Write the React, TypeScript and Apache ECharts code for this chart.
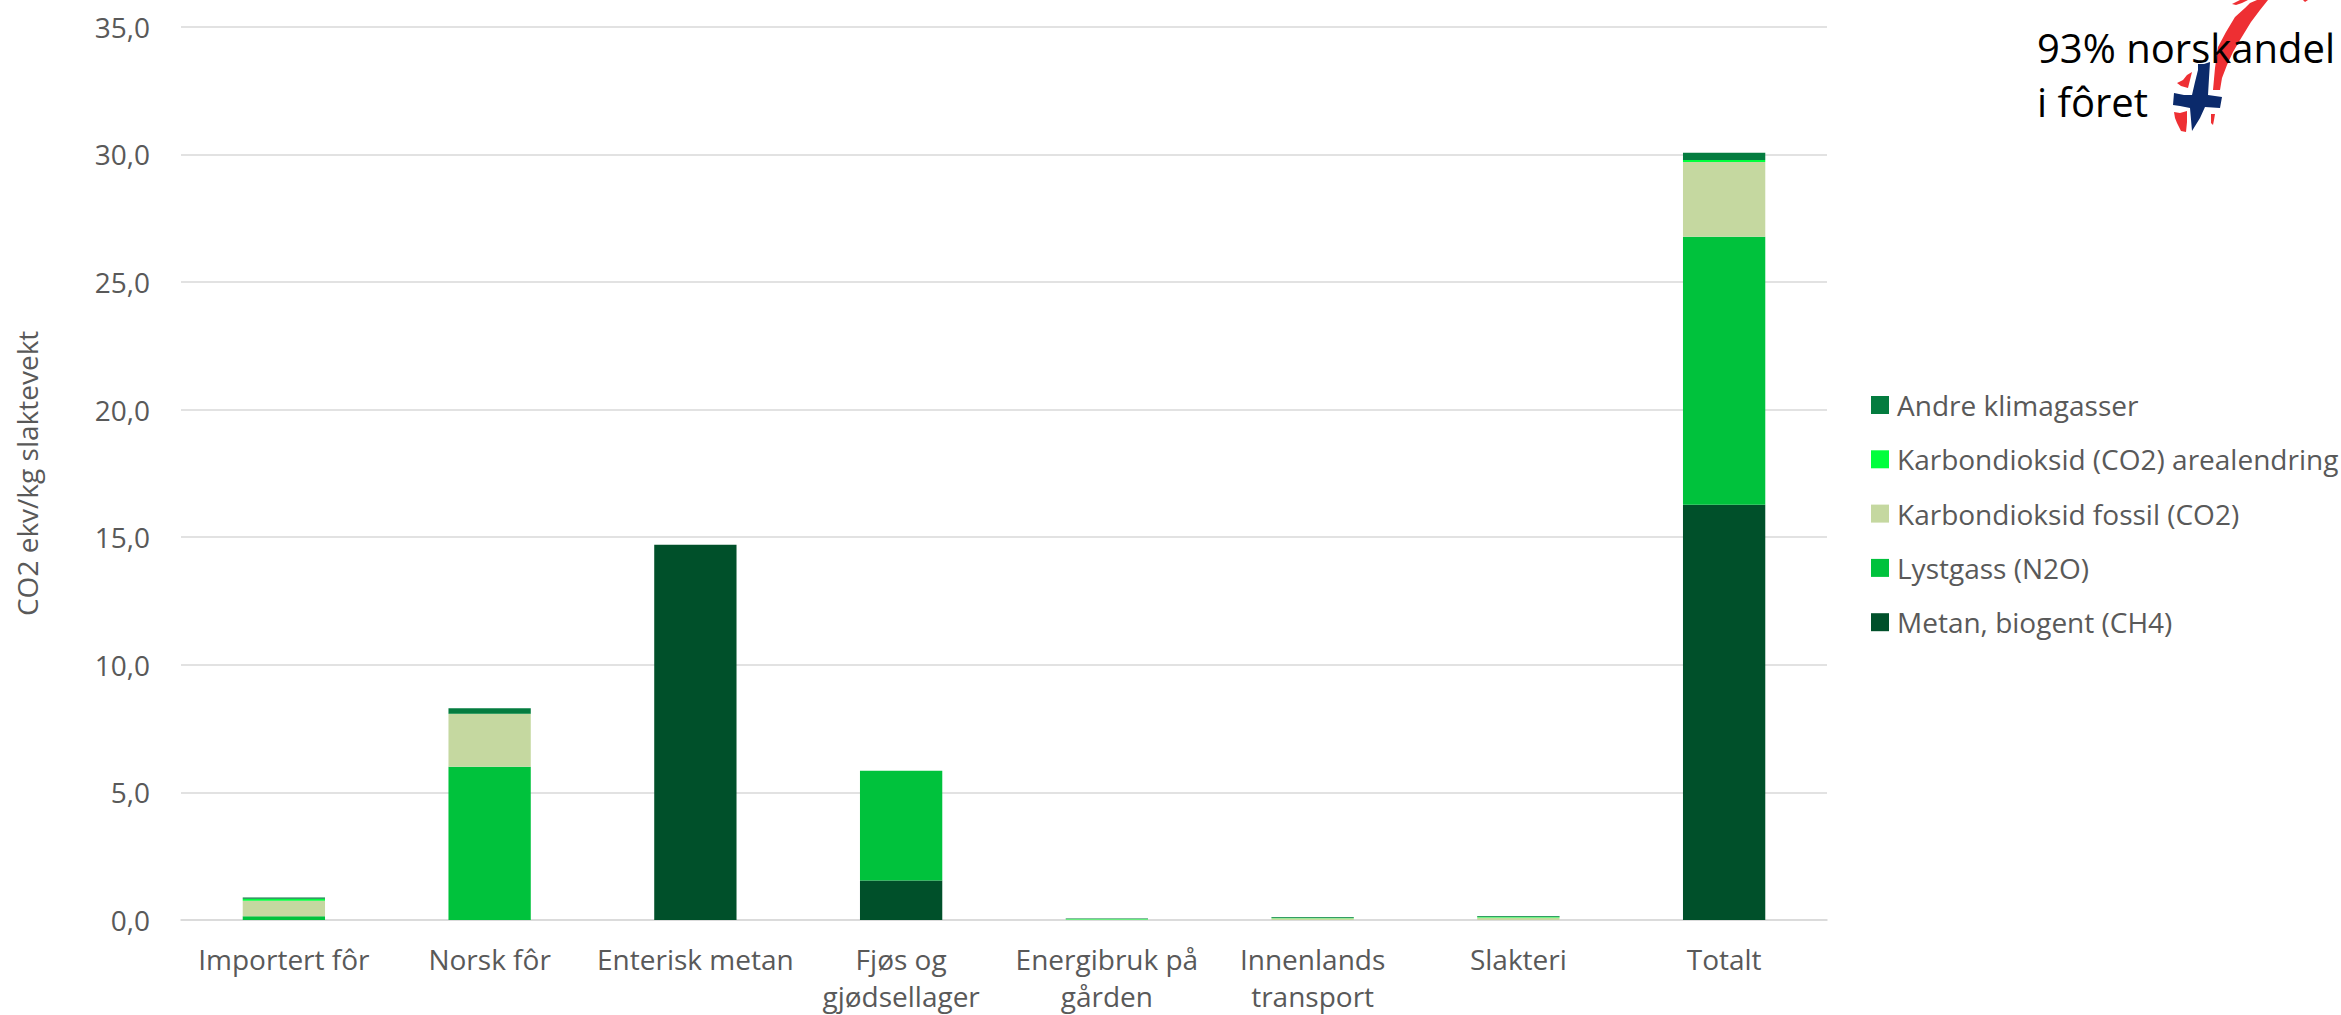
import React, { useEffect, useRef } from "react";
import * as echarts from "echarts";

const categories = [
  "Importert fôr",
  "Norsk fôr",
  "Enterisk metan",
  "Fjøs og\ngjødsellager",
  "Energibruk på\ngården",
  "Innenlands\ntransport",
  "Slakteri",
  "Totalt",
];

// kg CO2-ekv per kg slaktevekt, by emission source
const metan = [0, 0, 14.7, 1.55, 0, 0, 0, 16.27];
const lystgass = [0.15, 6.0, 0, 4.3, 0, 0, 0, 10.5];
const fossil = [0.6, 2.07, 0, 0, 0.02, 0.07, 0.1, 2.93];
const arealendring = [0.08, 0.01, 0, 0, 0.02, 0.02, 0.03, 0.08];
const andre = [0.05, 0.22, 0, 0, 0.02, 0.03, 0.03, 0.28];

const legendOrder = [
  "Andre klimagasser",
  "Karbondioksid (CO2) arealendring",
  "Karbondioksid fossil (CO2)",
  "Lystgass (N2O)",
  "Metan, biogent (CH4)",
];

const FONT = "'Open Sans', 'Noto Sans', sans-serif";
const TEXT = "#595959";

// Map of Norway painted with the flag's colours
echarts.graphic.registerShape(
  "norgeRod",
  echarts.graphic.extendPath(
    "M2177 83 L2183 80 L2187 75 L2192 72 L2190 80 L2188 88 L2181 86 Z " +
      "M2174 112 L2180 113 L2187 111 L2187 122 L2186 132 L2181 131 L2177 123 L2175 118 Z " +
      "M2211 114 L2215 114 L2214 120 L2213 125 L2211 123 Z " +
      "M2213 90 L2215 68 L2218 47 L2226 32 L2235 17 L2245 8 L2250 3 L2257 0 L2268 0 L2260 10 L2251 22 L2240 40 L2233 52 L2227 65 L2222 78 L2220 90 Z " +
      "M2232 4 L2240 0 L2248 0 L2242 3 L2236 5 Z M2303 0 L2308 0 L2305 2 Z",
    {},
  ),
);
echarts.graphic.registerShape(
  "norgeBla",
  echarts.graphic.extendPath(
    "M2198 64 L2204 64 L2210 62 L2209 78 L2208 95 L2222 97 L2220 108 L2205 107 L2200 118 L2192 131 L2190 108 L2180 106 L2173 105 L2174 93 L2184 95 L2192 95 L2195 82 L2198 70 Z",
    {},
  ),
);

const gridTop = 26.7;
const gridLeft = 181;

function buildOption() {
  const bar = (name: string, data: number[], color: string) => ({
    name,
    type: "bar",
    stack: "utslipp",
    data,
    barWidth: "40%",
    itemStyle: { color },
  });
  return {
    animation: false,
    backgroundColor: "#ffffff",
    textStyle: { fontFamily: FONT },
    grid: { left: gridLeft, right: 514, top: gridTop, bottom: 95, outerBoundsMode: "none" },
    legend: {
      orient: "vertical",
      left: 1871,
      top: 390,
      padding: 0,
      icon: "rect",
      itemWidth: 18,
      itemHeight: 18,
      itemGap: 24.3,
      data: legendOrder,
      textStyle: {
        color: TEXT,
        fontFamily: FONT,
        fontSize: 28,
        lineHeight: 30,
        padding: [0, 0, 0, 3],
      },
    },
    xAxis: {
      type: "category",
      data: categories,
      axisTick: { show: false },
      axisLine: { lineStyle: { color: "#d9d9d9", width: 1.6 } },
      axisLabel: {
        color: TEXT,
        fontFamily: FONT,
        fontSize: 28,
        lineHeight: 37,
        margin: 20,
        interval: 0,
      },
    },
    yAxis: {
      type: "value",
      min: 0,
      max: 35,
      interval: 5,
      name: "CO2 ekv/kg slaktevekt",
      nameLocation: "middle",
      nameGap: 140,
      nameRotate: 90,
      nameTextStyle: { color: TEXT, fontFamily: FONT, fontSize: 28 },
      axisLine: { show: false },
      axisTick: { show: false },
      splitLine: { lineStyle: { color: "#d9d9d9", width: 1.6 } },
      axisLabel: {
        color: TEXT,
        fontFamily: FONT,
        fontSize: 28,
        margin: 31,
        formatter: (v: number) => v.toFixed(1).replace(".", ","),
      },
    },
    series: [
      bar("Metan, biogent (CH4)", metan, "#00502a"),
      bar("Lystgass (N2O)", lystgass, "#00c23c"),
      bar("Karbondioksid fossil (CO2)", fossil, "#c5d8a0"),
      bar("Karbondioksid (CO2) arealendring", arealendring, "#00ff3c"),
      bar("Andre klimagasser", andre, "#047c3f"),
    ],
    graphic: [
      { type: "norgeRod", x: 0, y: 0, z: 5, style: { fill: "#ee2f33" } },
      { type: "norgeBla", x: 0, y: 0, z: 5, style: { fill: "#0b2a6b" } },
      {
        type: "text",
        x: 2037,
        y: 20,
        z: 10,
        style: {
          text: "93% norskandel\ni fôret",
          fill: "#000000",
          font: `40px ${FONT}`,
          lineHeight: 54,
          textAlign: "left",
          textVerticalAlign: "top",
        },
      },
    ],
  };
}

export default function App() {
  const ref = useRef<HTMLDivElement>(null);
  useEffect(() => {
    document.body.style.margin = "0";
    const chart = echarts.init(ref.current!, undefined, { renderer: "svg" });
    chart.setOption(buildOption() as any);
    return () => chart.dispose();
  }, []);
  return <div ref={ref} style={{ width: 2341, height: 1015 }} />;
}
